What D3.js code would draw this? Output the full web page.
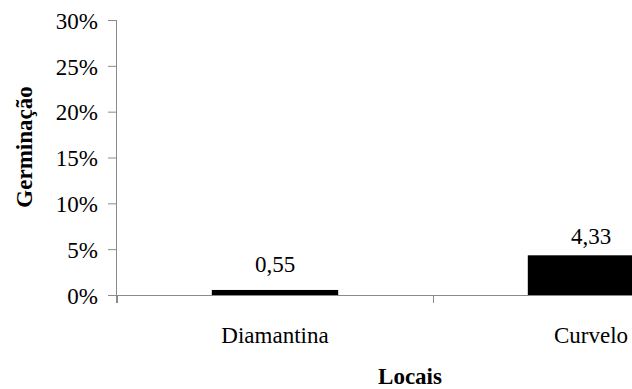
<!DOCTYPE html>
<html>
<head>
<meta charset="utf-8">
<script src="https://cdn.jsdelivr.net/npm/d3@7"></script>
<style>
  html, body { margin: 0; padding: 0; background: #fff; }
  svg { display: block; }
  svg text { fill: #000; }
</style>
</head>
<body>
<svg id="chart" width="632" height="389"></svg>
<script>
const categories = ["Diamantina", "Curvelo"];
const values = [0.55, 4.33];
const valueLabels = ["0,55", "4,33"];
const yTicks = [0, 5, 10, 15, 20, 25, 30];
const yTickLabels = ["0%", "5%", "10%", "15%", "20%", "25%", "30%"];
const yTitle = "Germinação";
const xTitle = "Locais";

const svg = d3.select("#chart");
const mLeft = 117, mRight = 749, mTop = 20, mBottom = 295;
const axisColor = "#8a8a8a";
const serif = "'Liberation Serif'";

const x = d3.scaleBand().domain(categories).range([mLeft, mRight]).padding(0);
const y = d3.scaleLinear().domain([0, 30]).range([mBottom, mTop]);

// Y axis
const yAxis = d3.axisLeft(y).tickValues(yTicks)
  .tickFormat((d, i) => yTickLabels[i]).tickSize(9).tickPadding(10);
const gy = svg.append("g").attr("transform", `translate(${mLeft},0)`).call(yAxis);
gy.attr("font-family", serif).attr("font-size", 23);
gy.selectAll("path, line").attr("stroke", axisColor).attr("stroke-width", 1);
gy.select("path.domain").attr("d", `M-0.5,${mTop}V${mBottom + 8}`);
gy.selectAll("text").attr("font-family", serif).attr("font-size", 23)
  .attr("dy", "0.36em").attr("fill", "#000");

// X axis line with boundary ticks
const gx = svg.append("g");
gx.append("line").attr("x1", mLeft - 9).attr("x2", mRight).attr("y1", mBottom + 0.5).attr("y2", mBottom + 0.5)
  .attr("stroke", axisColor);
const boundaries = categories.map(c => x(c)).concat([x(categories[categories.length - 1]) + x.bandwidth()]);
gx.selectAll("line.bt").data(boundaries).join("line").attr("class", "bt")
  .attr("x1", d => d + 0.5).attr("x2", d => d + 0.5)
  .attr("y1", mBottom).attr("y2", mBottom + 8).attr("stroke", axisColor);

// Bars
const barW = x.bandwidth() * 0.4;
svg.selectAll("rect.bar").data(categories).join("rect").attr("class", "bar")
  .attr("x", d => x(d) + (x.bandwidth() - barW) / 2)
  .attr("width", barW)
  .attr("y", (d, i) => y(values[i]))
  .attr("height", (d, i) => y(0) - y(values[i]))
  .attr("fill", "#000");

// Value labels (label gap above each bar, as placed in the original)
const labelGap = [18, 11];
svg.selectAll("text.val").data(categories).join("text").attr("class", "val")
  .attr("x", d => x(d) + x.bandwidth() / 2)
  .attr("y", (d, i) => y(values[i]) - labelGap[i])
  .attr("text-anchor", "middle").attr("font-size", 23).attr("font-family", serif)
  .text((d, i) => valueLabels[i]);

// Category labels
svg.selectAll("text.cat").data(categories).join("text").attr("class", "cat")
  .attr("x", d => x(d) + x.bandwidth() / 2)
  .attr("y", 343)
  .attr("text-anchor", "middle").attr("font-size", 23).attr("font-family", serif)
  .text(d => d);

// Axis titles
svg.append("text").attr("x", 410).attr("y", 384).attr("text-anchor", "middle")
  .attr("font-size", 23).attr("font-weight", "bold").attr("font-family", serif).text(xTitle);
svg.append("text").attr("transform", "translate(32,147) rotate(-90)").attr("text-anchor", "middle")
  .attr("font-size", 23).attr("font-weight", "bold").attr("font-family", serif).text(yTitle);
</script>
</body>
</html>
